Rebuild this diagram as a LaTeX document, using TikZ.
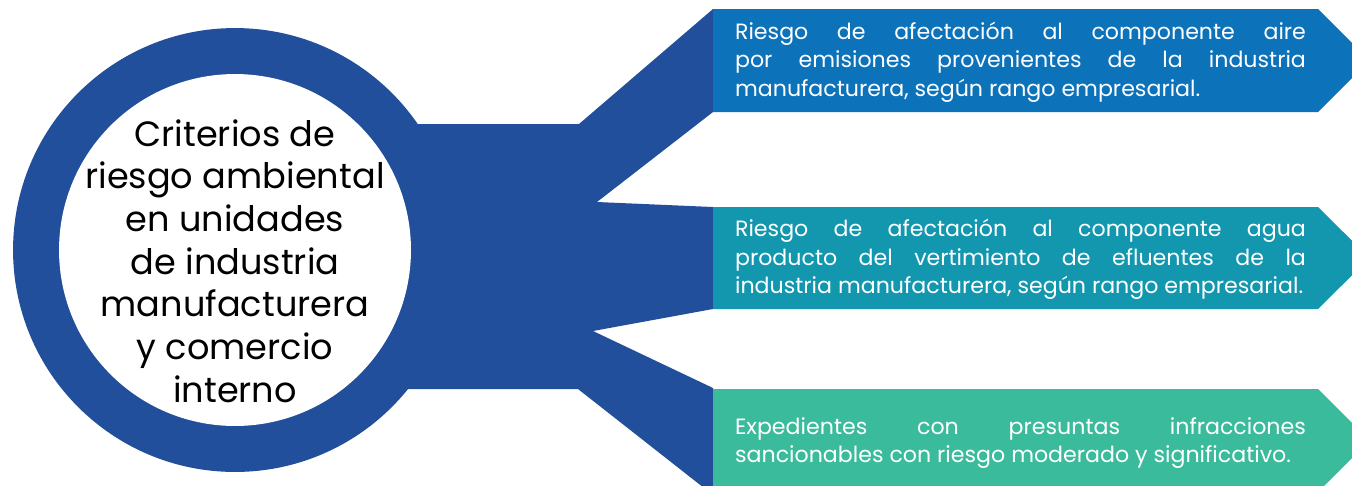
\documentclass[tikz,border=0pt]{standalone}
\usepackage{fontspec}
\setmainfont{Poppins}
\usetikzlibrary{positioning}
\hyphenpenalty=10000

\definecolor{ringblue}{RGB}{33,79,155}
\definecolor{airblue}{RGB}{12,114,186}
\definecolor{aguateal}{RGB}{18,151,175}
\definecolor{expgreen}{RGB}{58,187,156}

\begin{document}
\begin{tikzpicture}[x=0.02cm,y=-0.02cm]
        \tikzstyle{boxtext}=[text=white, text width=11.42cm, inner sep=0pt, align=justify,
                font=\fontsize{12.6}{16.2}\selectfont]
        \useasboundingbox (0,0) rectangle (1352,485);
        \clip (0,0) rectangle (1352,485);
        % ring and body
        \fill[ringblue] (235,250) circle[radius=4.44cm];
        \fill[ringblue] (235,124) -- (579,124) -- (713,9) -- (713,112) -- (597,202)
                -- (713,207) -- (713,309) -- (593,331) -- (713,388) -- (713,495)
                -- (578,389) -- (235,389) -- cycle;
        \fill[white] (235,250) circle[radius=3.52cm];
        % boxes
        \fill[airblue] (713,9) -- (1318,9) -- (1369.5,60.5) -- (1318,112) -- (713,112) -- cycle;
        \fill[aguateal] (713,207) -- (1318,207) -- (1369.5,258) -- (1318,309) -- (713,309) -- cycle;
        \fill[expgreen] (713,389) -- (1318,389) -- (1369.5,440.5) -- (1318,492) -- (713,492) -- cycle;
        % texts
        \node[align=center, font=\fontsize{20}{24.3}\selectfont] (crit) at (235,261)
                {Criterios de\\riesgo ambiental\\en unidades\\de industria\\manufacturera\\y comercio\\interno};
        \node[boxtext] (aire) at (1020.5,62)
                {Riesgo de afectación al componente aire\linebreak por emisiones provenientes de la industria\linebreak manufacturera, según rango empresarial.};
        \node[boxtext] (agua) at (1020.5,259.5)
                {Riesgo de afectación al componente agua\linebreak producto del vertimiento de efluentes de la\linebreak industria manufacturera, según rango empresarial.};
        \node[boxtext] (exped) at (1020.5,443)
                {Expedientes con presuntas infracciones\linebreak sancionables con riesgo moderado y significativo.};
\end{tikzpicture}
\end{document}
